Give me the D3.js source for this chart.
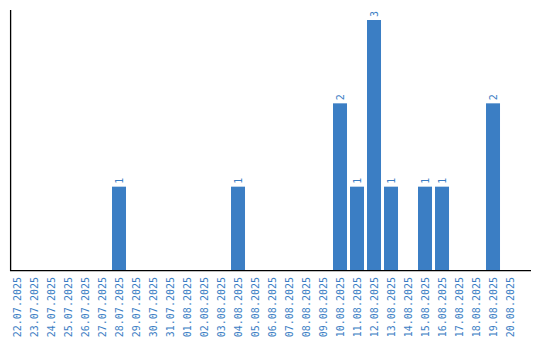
<!DOCTYPE html>
<html><head><meta charset="utf-8">
<script src="https://cdn.jsdelivr.net/npm/d3@7"></script>
<style>body{margin:0;background:#fff}</style>
</head><body>
<script>
const categories = ["22.07.2025","23.07.2025","24.07.2025","25.07.2025","26.07.2025","27.07.2025","28.07.2025","29.07.2025","30.07.2025","31.07.2025","01.08.2025","02.08.2025","03.08.2025","04.08.2025","05.08.2025","06.08.2025","07.08.2025","08.08.2025","09.08.2025","10.08.2025","11.08.2025","12.08.2025","13.08.2025","14.08.2025","15.08.2025","16.08.2025","17.08.2025","18.08.2025","19.08.2025","20.08.2025"];
const values = [0,0,0,0,0,0,1,0,0,0,0,0,0,1,0,0,0,0,0,2,1,3,1,0,1,1,0,0,2,0];

const W = 540, H = 340;
const color = "#3b7ec4";
const font = "'DejaVu Sans Mono', monospace";
const svg = d3.select("body").append("svg").attr("width", W).attr("height", H);

const x = d3.scaleBand().domain(categories).range([10, 530])
  .paddingInner(3/17).paddingOuter(0.382).align(0);
const y = d3.scaleLinear().domain([0, 3.12]).range([270, 10]);

const barData = values.map((v,i)=>({c:categories[i],v})).filter(d=>d.v>0);

svg.selectAll("rect.bar").data(barData)
  .enter().append("rect")
  .attr("x", d => x(d.c)).attr("width", x.bandwidth())
  .attr("y", d => y(d.v)).attr("height", d => y(0) - y(d.v))
  .attr("fill", color);

svg.selectAll("text.val").data(barData)
  .enter().append("text")
  .attr("transform", d => `translate(${x(d.c)+x.bandwidth()/2+4},${y(d.v)-3}) rotate(-90)`)
  .attr("font-family", font).attr("font-size", "10px")
  .attr("fill", color).attr("text-anchor", "start")
  .text(d => d.v);

// x axis
const xAxis = svg.append("g").attr("transform", "translate(0,270)")
  .call(d3.axisBottom(x).tickSize(0).tickPadding(0));
xAxis.select(".domain").attr("stroke", "#000").attr("stroke-width", 1.3)
  .attr("d", "M10,0.6H531");
xAxis.selectAll("text")
  .attr("font-family", font).attr("font-size", "10px").attr("fill", color)
  .attr("text-anchor", "end").attr("dy", null)
  .attr("transform", "translate(4,7) rotate(-90)")
  .attr("x", 0).attr("y", 0);

// y axis line
svg.append("line").attr("x1", 10.6).attr("x2", 10.6).attr("y1", y.range()[1]).attr("y2", 271)
  .attr("stroke", "#000").attr("stroke-width", 1.3);
</script>
</body></html>
